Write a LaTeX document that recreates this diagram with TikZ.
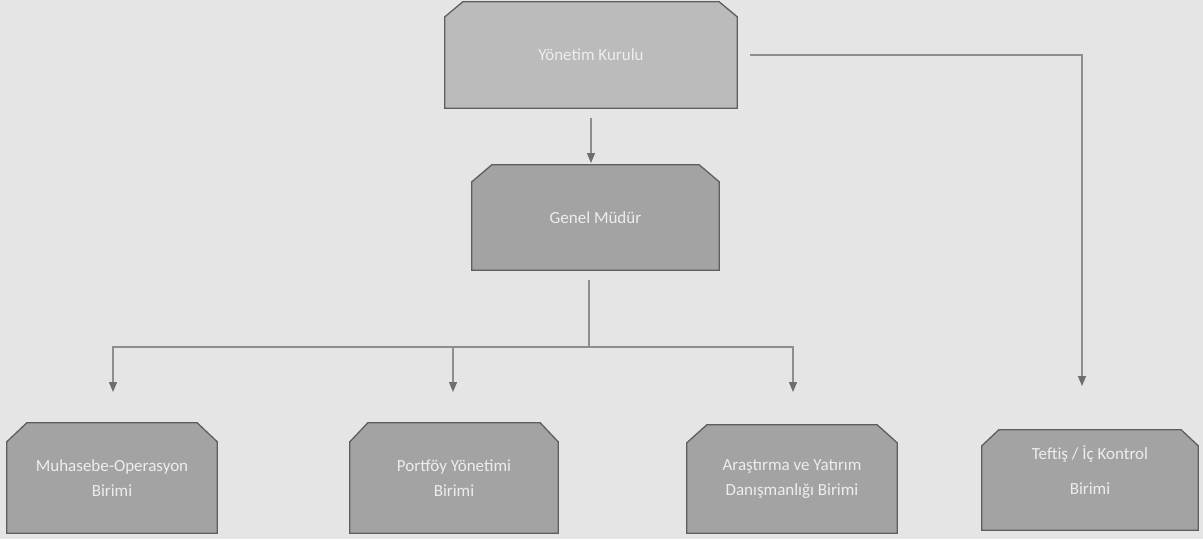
\documentclass[tikz,border=0pt]{standalone}
\usepackage{fontspec}
\setmainfont{Carlito}
\usetikzlibrary{arrows.meta}
\pgfdeclarelayer{bg}
\pgfsetlayers{bg,main}
\definecolor{pagebg}{HTML}{E5E5E5}
\definecolor{topfill}{HTML}{BBBBBB}
\definecolor{boxfill}{HTML}{A3A3A3}
\definecolor{boxedge}{HTML}{5E5E5E}
\definecolor{wire}{HTML}{8E8E8E}
\definecolor{tip}{HTML}{6E6E6E}
\definecolor{txt}{HTML}{EDEDED}
\tikzset{
  orgbox/.style={inner sep=0pt, text=txt, align=center,
    font=\fontsize{17}{24.5}\selectfont},
  boxline/.style={draw=boxedge, line width=1.3pt, line join=miter},
  conn/.style={draw=wire, line width=1.2pt},
  arr/.style={conn, -{Triangle[length=10pt, width=8pt, fill=tip, color=tip]}}
}
\newcommand\chamf[4]{%
  \begin{pgfonlayer}{bg}
  \filldraw[boxline, fill=#2]
    ([yshift=-#4pt]#1.north west) -- ([xshift=#3pt]#1.north west)
    -- ([xshift=-#3pt]#1.north east) -- ([yshift=-#4pt]#1.north east)
    -- (#1.south east) -- (#1.south west) -- cycle;
  \end{pgfonlayer}}
\begin{document}
\begin{tikzpicture}[x=1pt, y=-1pt]
\begin{pgfonlayer}{bg}
\fill[pagebg] (0,0) rectangle (1203,539);
\end{pgfonlayer}
\useasboundingbox (0,0) rectangle (1203,539);

\node[orgbox, minimum width=292pt, minimum height=106pt] (yk) at (591,55) {Yönetim Kurulu};
\chamf{yk}{topfill}{18}{15}

\node[orgbox, minimum width=247pt, minimum height=105pt] (gm) at (595.5,217.5) {Genel Müdür};
\chamf{gm}{boxfill}{20}{17}

\node[orgbox, minimum width=210pt, minimum height=110pt] (mo) at (112,478) {Muhasebe-Operasyon\\Birimi};
\chamf{mo}{boxfill}{20}{19}

\node[orgbox, minimum width=208pt, minimum height=110pt] (py) at (454,478) {Portföy Yönetimi\\Birimi};
\chamf{py}{boxfill}{18}{19}

\node[orgbox, minimum width=210pt, minimum height=108pt] (ar) at (792,479) {Araştırma ve Yatırım\\Danışmanlığı Birimi};
\chamf{ar}{boxfill}{20}{18}

\node[minimum width=216pt, minimum height=100pt, inner sep=0pt,
  label={[name=tftext, orgbox, font=\fontsize{17}{35}\selectfont, yshift=10pt]center:Teftiş / İç Kontrol\\Birimi}] (tf) at (1090,480) {};
\chamf{tf}{boxfill}{17}{16}

% connectors
\coordinate (bus) at (589,347);
\coordinate (t1) at (113,392);
\coordinate (t2) at (453,392);
\coordinate (t3) at (793,392);
\coordinate (t4) at (1082,386);
\coordinate (tgm) at (591,163);

\draw[arr] ([xshift=-4.5pt, yshift=-10pt]gm.north |- yk.south) -- (tgm);
\draw[conn] ([xshift=-6.5pt, yshift=-10pt]gm.south) -- (bus);
\draw[arr] (bus) -| (t1);
\draw[arr] (bus) -| (t2);
\draw[arr] (bus) -| (t3);
\draw[arr] ([xshift=13pt, yshift=0pt]yk.east) -| (t4);
\end{tikzpicture}
\end{document}
